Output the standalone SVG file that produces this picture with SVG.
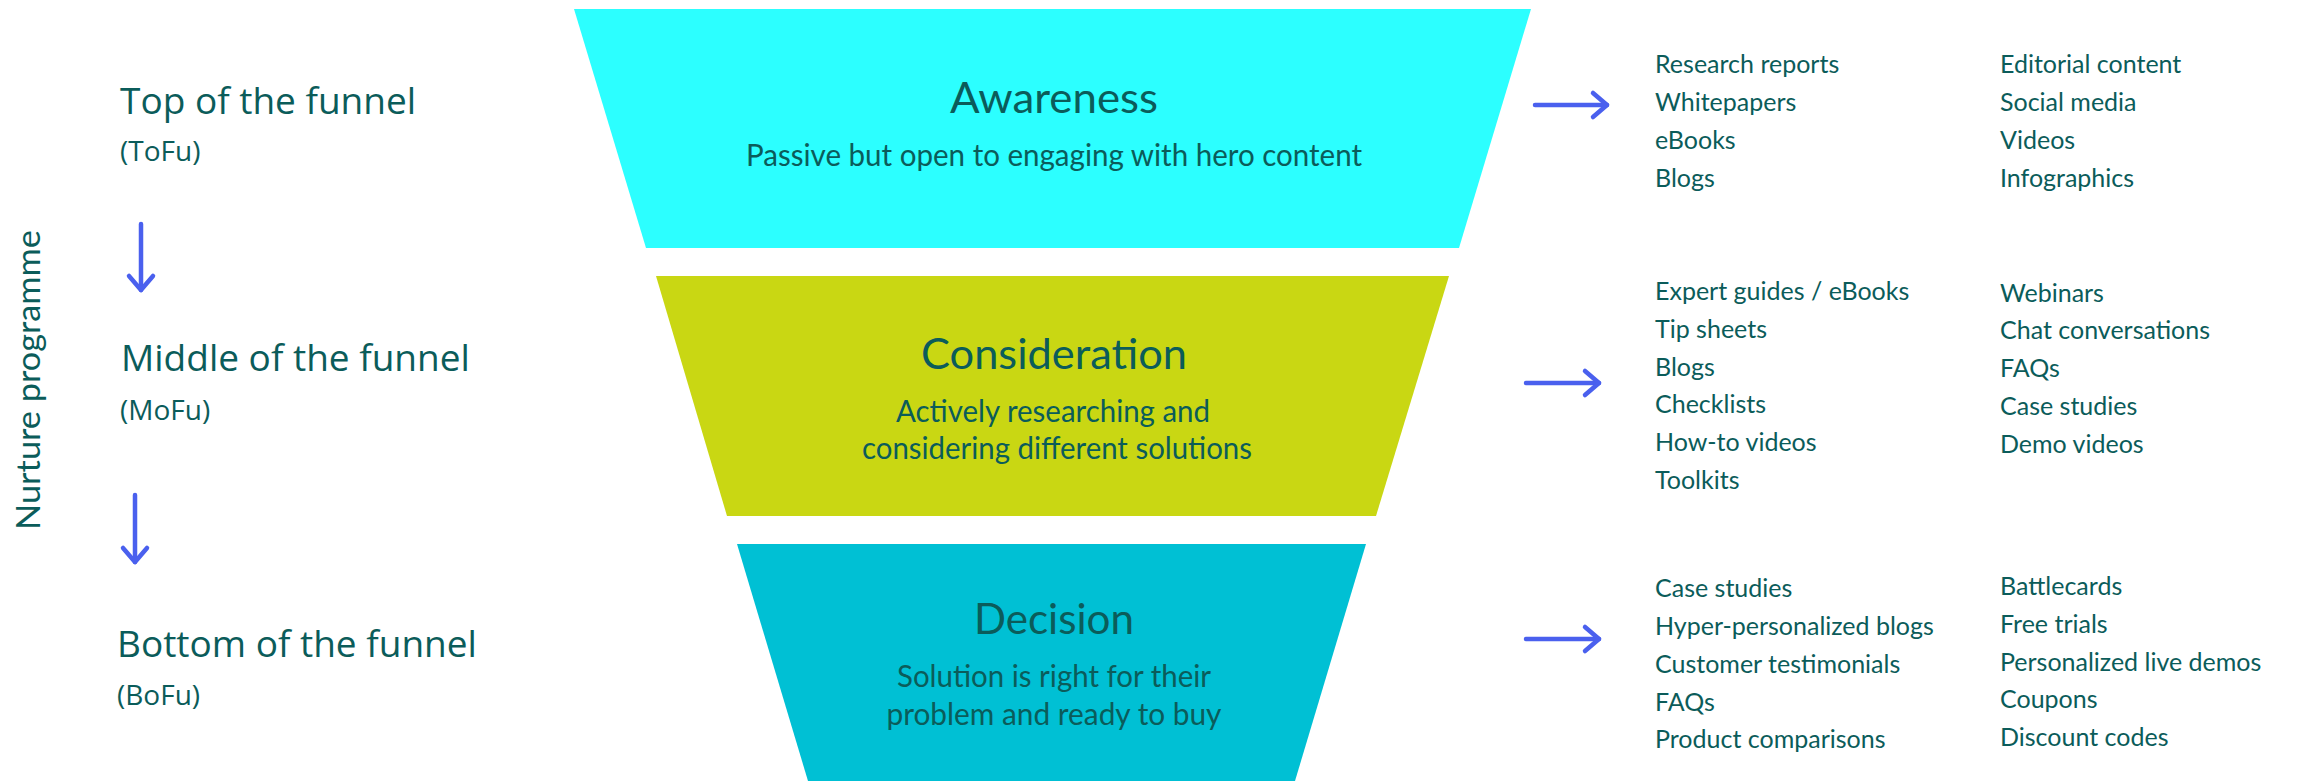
<svg xmlns="http://www.w3.org/2000/svg" width="2297" height="781" viewBox="0 0 2297 781">
  <style>
    .lbl { font-family: "Open Sans", "Noto Sans", sans-serif; fill: #0B5C5A; }
    .big { font-size: 37px; }
    .abbr { font-size: 28px; }
    .cal { font-family: Lato, "Open Sans", sans-serif; fill: #0B5C5A; }
    .title { font-size: 43px; text-anchor: middle; }
    .sub { font-size: 30px; text-anchor: middle; }
    .item { font-size: 25px; }
    .arrow { fill: none; stroke: #4A60EE; stroke-width: 4.5; stroke-linecap: round; marker-end: url(#chev); }
  </style>
  <defs>
    <marker id="chev" markerUnits="userSpaceOnUse" markerWidth="40" markerHeight="40" viewBox="-20 -20 40 40" refX="0" refY="0" orient="auto" overflow="visible">
      <path d="M-14,-12 L0,0 L-14,12" fill="none" stroke="#4A60EE" stroke-width="4.5" stroke-linecap="round" stroke-linejoin="round"/>
    </marker>
  </defs>

  <rect width="2297" height="781" fill="#FFFFFF"/>

  <!-- side caption -->
  <g id="nurture">
    <text class="cal" font-size="33" transform="translate(40,530) rotate(-90)" textLength="300" lengthAdjust="spacingAndGlyphs">Nurture programme</text>
  </g>

  <!-- stage labels on the left -->
  <g id="tofu">
    <text class="lbl big" x="120" y="114">Top of the funnel</text>
    <text class="lbl abbr" x="120" y="161">(ToFu)</text>
  </g>
  <g id="mofu">
    <text class="lbl big" x="121" y="371">Middle of the funnel</text>
    <text class="lbl abbr" x="120" y="420">(MoFu)</text>
  </g>
  <g id="bofu">
    <text class="lbl big" x="117" y="657">Bottom of the funnel</text>
    <text class="lbl abbr" x="117" y="705">(BoFu)</text>
  </g>

  <!-- funnel stages -->
  <g id="awareness">
    <polygon points="574,9 1531,9 1459,248 646,248" fill="#2CFFFF"/>
    <text class="cal title" x="1054" y="113" textLength="208" lengthAdjust="spacingAndGlyphs">Awareness</text>
    <text class="cal sub" x="1054" y="166" textLength="616" lengthAdjust="spacingAndGlyphs">Passive but open to engaging with hero content</text>
  </g>
  <g id="consideration">
    <polygon points="656,276 1449,276 1376,516 727,516" fill="#C9D713"/>
    <text class="cal title" x="1054" y="369" textLength="266" lengthAdjust="spacingAndGlyphs">Consideration</text>
    <text class="cal sub" x="1053" y="422" textLength="314" lengthAdjust="spacingAndGlyphs">Actively researching and</text>
    <text class="cal sub" x="1057" y="459" textLength="390" lengthAdjust="spacingAndGlyphs">considering different solutions</text>
  </g>
  <g id="decision">
    <polygon points="737,544 1366,544 1295,781 808,781" fill="#00C0D4"/>
    <text class="cal title" x="1054" y="634" textLength="160" lengthAdjust="spacingAndGlyphs">Decision</text>
    <text class="cal sub" x="1054" y="687" textLength="314" lengthAdjust="spacingAndGlyphs">Solution is right for their</text>
    <text class="cal sub" x="1054" y="725" textLength="335" lengthAdjust="spacingAndGlyphs">problem and ready to buy</text>
  </g>

  <!-- content types per stage -->
  <g id="awareness-content" class="cal item">
    <text x="1655" y="73">Research reports</text>
    <text x="1655" y="111">Whitepapers</text>
    <text x="1655" y="149">eBooks</text>
    <text x="1655" y="187">Blogs</text>
    <text x="2000" y="73">Editorial content</text>
    <text x="2000" y="111">Social media</text>
    <text x="2000" y="149">Videos</text>
    <text x="2000" y="187">Infographics</text>
  </g>
  <g id="consideration-content" class="cal item">
    <text x="1655" y="300">Expert guides / eBooks</text>
    <text x="1655" y="338">Tip sheets</text>
    <text x="1655" y="376">Blogs</text>
    <text x="1655" y="413">Checklists</text>
    <text x="1655" y="451">How-to videos</text>
    <text x="1655" y="489">Toolkits</text>
    <text x="2000" y="302">Webinars</text>
    <text x="2000" y="339">Chat conversations</text>
    <text x="2000" y="377">FAQs</text>
    <text x="2000" y="415">Case studies</text>
    <text x="2000" y="453">Demo videos</text>
  </g>
  <g id="decision-content" class="cal item">
    <text x="1655" y="597">Case studies</text>
    <text x="1655" y="635">Hyper-personalized blogs</text>
    <text x="1655" y="673">Customer testimonials</text>
    <text x="1655" y="711">FAQs</text>
    <text x="1655" y="748">Product comparisons</text>
    <text x="2000" y="595">Battlecards</text>
    <text x="2000" y="633">Free trials</text>
    <text x="2000" y="671">Personalized live demos</text>
    <text x="2000" y="708">Coupons</text>
    <text x="2000" y="746">Discount codes</text>
  </g>

  <!-- connectors -->
  <g id="connectors">
    <path class="arrow" d="M141,224 L141,290"/>
    <path class="arrow" d="M135,495 L135,562"/>
    <path class="arrow" d="M1535,105 L1607,105"/>
    <path class="arrow" d="M1526,383 L1599,383"/>
    <path class="arrow" d="M1526,639 L1599,639"/>
  </g>
</svg>
